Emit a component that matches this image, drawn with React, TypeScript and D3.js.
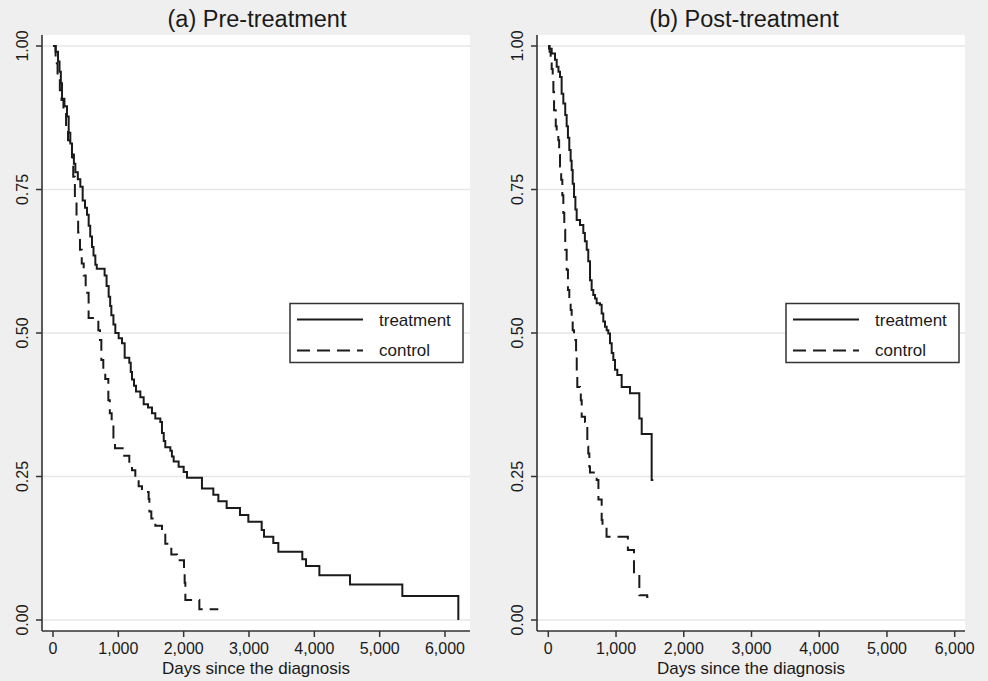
import React from "react";
import * as d3 from "d3";

// ---------- data ----------
const panelTitles = ["(a) Pre-treatment", "(b) Post-treatment"];
const xAxisTitle = "Days since the diagnosis";
const legendLabels = ["treatment", "control"];
const xTicks = [0, 1000, 2000, 3000, 4000, 5000, 6000];
const yTicks = [0, 0.25, 0.5, 0.75, 1];

const preTreatTime = [0, 40, 77, 100, 120, 138, 175, 214, 240, 265, 291, 320, 342, 380, 418, 454, 490, 520, 546, 570, 597, 620, 648, 670, 790, 820, 852, 875, 893, 925, 954, 1005, 1056, 1097, 1168, 1190, 1209, 1240, 1270, 1337, 1388, 1454, 1515, 1566, 1643, 1668, 1695, 1719, 1796, 1820, 1847, 1923, 2000, 2051, 2280, 2454, 2531, 2658, 2862, 2990, 3194, 3230, 3372, 3449, 3816, 3873, 4077, 4546, 5347, 6204];
const preTreatSurv = [1, 0.99, 0.973, 0.955, 0.935, 0.908, 0.895, 0.877, 0.849, 0.83, 0.811, 0.795, 0.78, 0.768, 0.755, 0.731, 0.718, 0.706, 0.687, 0.668, 0.65, 0.635, 0.619, 0.612, 0.6, 0.582, 0.563, 0.547, 0.531, 0.515, 0.5, 0.491, 0.482, 0.457, 0.448, 0.432, 0.419, 0.408, 0.398, 0.388, 0.376, 0.37, 0.36, 0.351, 0.345, 0.326, 0.312, 0.301, 0.295, 0.285, 0.276, 0.267, 0.258, 0.248, 0.229, 0.218, 0.207, 0.195, 0.183, 0.171, 0.157, 0.145, 0.134, 0.119, 0.106, 0.094, 0.078, 0.062, 0.042, 0];

const preControlTime = [0, 40, 70, 105, 130, 160, 200, 230, 260, 290, 310, 335, 360, 385, 413, 440, 470, 500, 545, 694, 719, 740, 770, 800, 847, 870, 898, 925, 949, 1090, 1168, 1209, 1260, 1311, 1362, 1464, 1475, 1505, 1566, 1668, 1719, 1796, 1811, 1898, 2005, 2015, 2026, 2240, 2530];
const preControlSurv = [1, 0.97, 0.946, 0.923, 0.906, 0.888, 0.86, 0.836, 0.824, 0.806, 0.772, 0.732, 0.704, 0.675, 0.645, 0.621, 0.6, 0.57, 0.526, 0.505, 0.488, 0.453, 0.435, 0.42, 0.383, 0.36, 0.337, 0.315, 0.299, 0.286, 0.27, 0.261, 0.245, 0.233, 0.223, 0.211, 0.189, 0.177, 0.164, 0.155, 0.133, 0.127, 0.114, 0.104, 0.085, 0.065, 0.035, 0.0186, 0.0186];

const postTreatTime = [0, 10, 50, 99, 124, 150, 173, 197, 222, 250, 271, 290, 310, 330, 345, 360, 380, 400, 419, 468, 517, 540, 567, 590, 616, 640, 664, 690, 714, 763, 788, 812, 837, 862, 886, 911, 936, 960, 985, 1019, 1083, 1206, 1344, 1379, 1526, 1550];
const postTreatSurv = [1, 0.995, 0.987, 0.976, 0.964, 0.955, 0.946, 0.917, 0.9, 0.88, 0.86, 0.84, 0.819, 0.8, 0.784, 0.76, 0.737, 0.715, 0.697, 0.688, 0.674, 0.66, 0.645, 0.625, 0.592, 0.575, 0.566, 0.56, 0.552, 0.549, 0.534, 0.52, 0.511, 0.505, 0.499, 0.482, 0.465, 0.453, 0.436, 0.427, 0.406, 0.395, 0.351, 0.324, 0.244, 0.244];

const postControlTime = [0, 20, 35, 50, 65, 75, 85, 110, 124, 148, 160, 173, 190, 207, 222, 236, 250, 271, 290, 310, 330, 345, 360, 380, 400, 410, 420, 428, 468, 480, 493, 542, 560, 576, 590, 606, 615, 714, 740, 788, 800, 860, 1175, 1265, 1344, 1460, 1477];
const postControlSurv = [1, 0.99, 0.975, 0.96, 0.947, 0.92, 0.888, 0.86, 0.848, 0.836, 0.81, 0.79, 0.767, 0.74, 0.709, 0.68, 0.645, 0.61, 0.575, 0.557, 0.54, 0.52, 0.505, 0.493, 0.488, 0.46, 0.43, 0.406, 0.401, 0.383, 0.354, 0.345, 0.337, 0.302, 0.29, 0.267, 0.257, 0.244, 0.21, 0.174, 0.163, 0.145, 0.122, 0.081, 0.043, 0.04, 0.04];

// ---------- layout ----------
const W = 988;
const H = 681;
const FONT = "'Liberation Sans', Arial, Helvetica, sans-serif";
const BG = "#efefef";
const INK = "#1a1a1a";

type Panel = {
  title: string;
  titleX: number;
  left: number;
  right: number;
  x0: number;
  x6000: number;
  legendX: number;
  treatT: number[];
  treatS: number[];
  ctrlT: number[];
  ctrlS: number[];
};

const panels: Panel[] = [
  { title: panelTitles[0], titleX: 257, left: 42, right: 470, x0: 53, x6000: 445, legendX: 290, treatT: preTreatTime, treatS: preTreatSurv, ctrlT: preControlTime, ctrlS: preControlSurv },
  { title: panelTitles[1], titleX: 744, left: 537, right: 965, x0: 548.3, x6000: 954.7, legendX: 786, treatT: postTreatTime, treatS: postTreatSurv, ctrlT: postControlTime, ctrlS: postControlSurv },
];

const TOP = 35;
const AXIS_Y = 631;
const y = d3.scaleLinear().domain([0, 1]).range([620, 46]);
const fmtX = d3.format(",");
const fmtY = d3.format(".2f");

function PanelView({ p }: { p: Panel }) {
  const x = d3.scaleLinear().domain([0, 6000]).range([p.x0, p.x6000]);
  const line = d3
    .line<[number, number]>()
    .x((d) => x(d[0]))
    .y((d) => y(d[1]))
    .curve(d3.curveStepAfter);
  const treat = p.treatT.map((t, i) => [t, p.treatS[i]] as [number, number]);
  const ctrl = p.ctrlT.map((t, i) => [t, p.ctrlS[i]] as [number, number]);
  return (
    <g>
      <rect x={p.left} y={TOP} width={p.right - p.left} height={AXIS_Y - TOP} fill="#ffffff" />
      {yTicks.map((v) => (
        <line key={"g" + v} x1={p.left} x2={p.right} y1={y(v)} y2={y(v)} stroke="#e6e6e6" strokeWidth={1.5} />
      ))}
      <path d={line(ctrl) || ""} fill="none" stroke={INK} strokeWidth={2} strokeDasharray="13,7" />
      <path d={line(treat) || ""} fill="none" stroke={INK} strokeWidth={2} />
      {/* axes */}
      <line x1={p.left} x2={p.left} y1={TOP} y2={AXIS_Y} stroke="#333" strokeWidth={1.6} />
      <line x1={p.left} x2={p.right} y1={AXIS_Y} y2={AXIS_Y} stroke="#333" strokeWidth={1.6} />
      {yTicks.map((v) => (
        <g key={"y" + v}>
          <line x1={p.left - 6} x2={p.left} y1={y(v)} y2={y(v)} stroke="#333" strokeWidth={1.5} />
          <text transform={`translate(${p.left - 14},${y(v)}) rotate(-90)`} textAnchor="middle" fontFamily={FONT} fontSize={16} fill={INK}>
            {fmtY(v)}
          </text>
        </g>
      ))}
      {xTicks.map((v) => (
        <g key={"x" + v}>
          <line x1={x(v)} x2={x(v)} y1={AXIS_Y} y2={AXIS_Y + 6} stroke="#333" strokeWidth={1.5} />
          <text x={x(v)} y={653.5} textAnchor="middle" fontFamily={FONT} fontSize={16} fill={INK}>
            {fmtX(v)}
          </text>
        </g>
      ))}
      <text x={(p.left + p.right) / 2} y={673.5} textAnchor="middle" fontFamily={FONT} fontSize={17} fill={INK}>
        {xAxisTitle}
      </text>
      <text x={p.titleX} y={27} textAnchor="middle" fontFamily={FONT} fontSize={23.5} fill={INK}>
        {p.title}
      </text>
      {/* legend */}
      <rect x={p.legendX} y={303.5} width={173} height={59} fill="#ffffff" stroke="#333" strokeWidth={1.5} />
      <line x1={p.legendX + 7} x2={p.legendX + 73} y1={319.5} y2={319.5} stroke={INK} strokeWidth={2} />
      <line x1={p.legendX + 7} x2={p.legendX + 73} y1={350.5} y2={350.5} stroke={INK} strokeWidth={2} strokeDasharray="13,7" />
      <text x={p.legendX + 89} y={326} fontFamily={FONT} fontSize={17} fill={INK}>
        {legendLabels[0]}
      </text>
      <text x={p.legendX + 89} y={356} fontFamily={FONT} fontSize={17} fill={INK}>
        {legendLabels[1]}
      </text>
    </g>
  );
}

export default function App() {
  return (
    <svg width={W} height={H} viewBox={`0 0 ${W} ${H}`} style={{ position: "absolute", left: 0, top: 0 }}>
      <rect x={0} y={0} width={W} height={H} fill={BG} />
      {panels.map((p, i) => (
        <PanelView key={i} p={p} />
      ))}
    </svg>
  );
}
